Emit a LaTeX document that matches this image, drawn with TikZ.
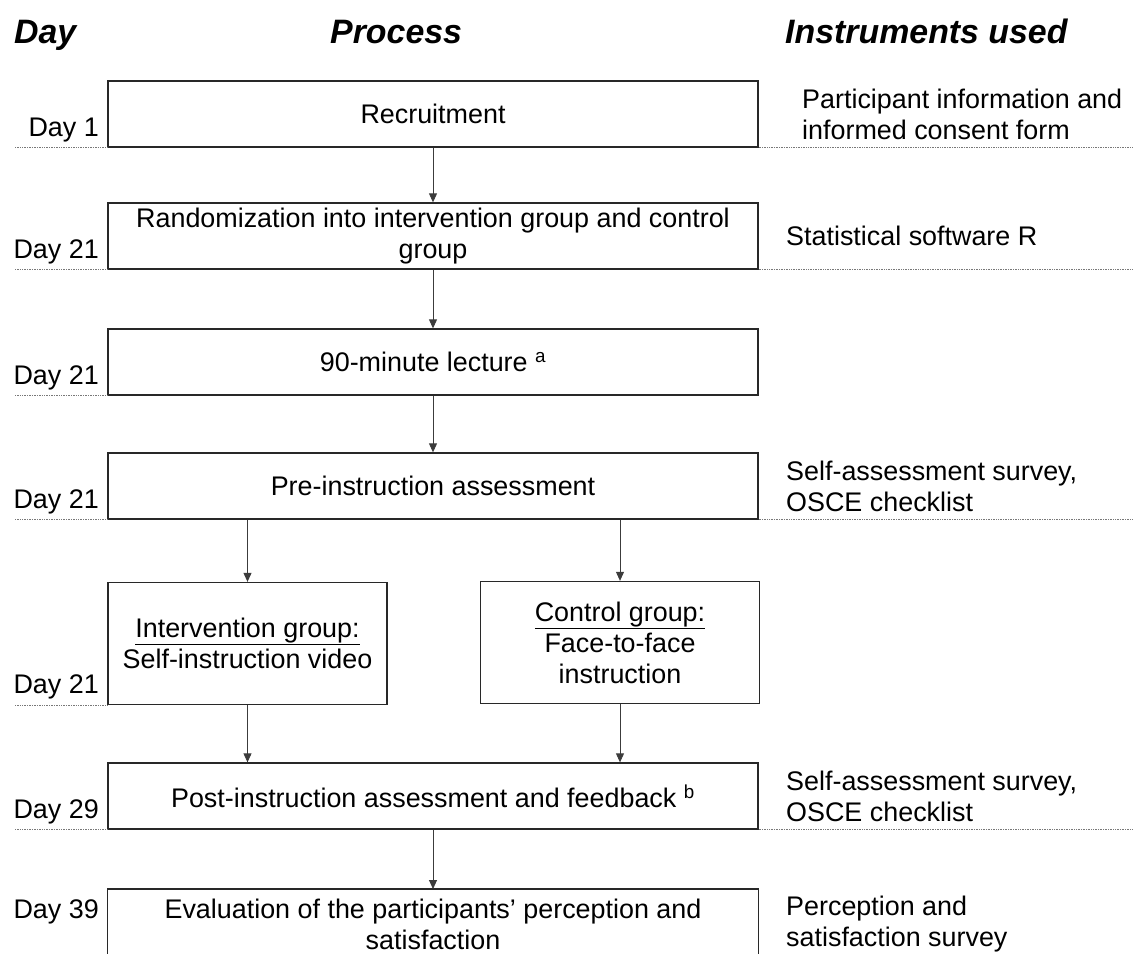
\documentclass[tikz,border=0pt]{standalone}
\usepackage{fontspec}
\setmainfont{Liberation Sans}
\usepackage{tikz}
\usetikzlibrary{positioning, arrows.meta}
\definecolor{BoxLine}{RGB}{40,40,40}
\definecolor{ArrLine}{RGB}{60,60,60}
\definecolor{RuleGray}{RGB}{120,120,120}
\newcommand{\txtsize}{\fontsize{27}{31}\selectfont}
\newcommand{\headsize}{\fontsize{34}{38}\selectfont\bfseries\itshape}

\begin{document}
\begin{tikzpicture}[x=1bp, y=-1bp,
            box/.style={rectangle, draw=BoxLine, line width=1.3bp,
                        minimum width=650bp, minimum height=66bp,
                        inner sep=0pt, font=\txtsize, align=center},
            grp/.style={box, minimum width=279bp, minimum height=122bp},
            arr/.style={-{Triangle[length=9bp,width=8bp]}, ArrLine, line width=0.9bp},
            rule/.style={RuleGray, densely dotted, line width=0.7bp},
            daylbl/.style={anchor=base east, inner sep=0pt, font=\txtsize},
            instr/.style={anchor=west, inner sep=0pt, font=\txtsize, align=left},
            head/.style={anchor=base west, inner sep=0pt, font=\headsize}
          ]
          \clip (0,0) rectangle (1133,954);
          \coordinate (dl) at (15,0);
          \coordinate (dr) at (1133,0);

          % column titles
          \node[head] (hday)  at (14, 43)  {Day};
          \node[head] (hproc) at (330, 43) {Process};
          \node[head] (hins)  at (785, 43) {Instruments used};

          % process boxes
          \node[box] (rec)  at (433, 114) {Recruitment};
          \node[box] (rand) at (433, 236) {Randomization into intervention group and control\\group};
          \node[box] (lec)  at (433, 362) {90-minute lecture \textsuperscript{a}};
          \node[box] (pre)  at (433, 486) {Pre-instruction assessment};
          \node[grp] (int)  at (247.5, 643.5) {\underline{Intervention group:}\\Self-instruction video};
          \node[grp] (ctl)  at (620, 642.5) {\underline{Control group:}\\Face-to-face\\instruction};
          \node[box] (post) at (433, 796) {Post-instruction assessment and feedback \textsuperscript{b}};
          \node[box, draw=none, minimum height=70bp, anchor=north] (eval) at (433, 889)
               {Evaluation of the participants’ perception and\\satisfaction};
          \draw[BoxLine, line width=1.3bp] ([yshift=-40bp]eval.south west) rectangle (eval.north east);

          % day labels
          \node[daylbl] (d1)  at (99, 136) {Day 1};
          \node[daylbl] (d2)  at (99, 258) {Day 21};
          \node[daylbl] (d3)  at (99, 384) {Day 21};
          \node[daylbl] (d4)  at (99, 508) {Day 21};
          \node[daylbl] (d5)  at (99, 693) {Day 21};
          \node[daylbl] (d6)  at (99, 818) {Day 29};
          \node[daylbl] (d7)  at (99, 918) {Day 39};

          % instruments
          \node[instr] (i1) at (802, 114) {Participant information and\\informed consent form};
          \node[instr] (i2) at (786, 236) {Statistical software R};
          \node[instr] (i3) at (786, 486) {Self-assessment survey,\\OSCE checklist};
          \node[instr] (i4) at (786, 796) {Self-assessment survey,\\OSCE checklist};
          \node[instr] (i5) at (786, 924) {Perception and\\satisfaction survey};

          % dotted row rules
          \foreach \b in {rec, rand, lec, pre, int, post}
            \draw[rule] (\b.south west) -- (\b.south west -| dl);
          \foreach \b in {rec, rand, pre, post}
            \draw[rule] (\b.south east) -- (\b.south east -| dr);

          % flow
          \draw[arr] (rec)  -- (rand);
          \draw[arr] (rand) -- (lec);
          \draw[arr] (lec)  -- (pre);
          \draw[arr] (int.north |- pre.south) -- (int.north);
          \draw[arr] (ctl.north |- pre.south) -- (ctl.north);
          \draw[arr] (int.south) -- (int.south |- post.north);
          \draw[arr] (ctl.south) -- (ctl.south |- post.north);
          \draw[arr] (post) -- (eval);
        \end{tikzpicture}
\end{document}
